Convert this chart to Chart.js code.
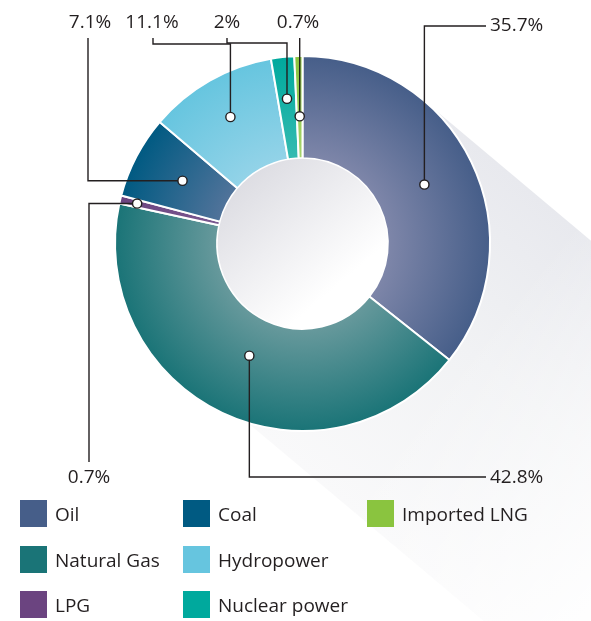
<!DOCTYPE html>
<html>
<head>
<meta charset="utf-8">
<script src="https://cdn.jsdelivr.net/npm/chart.js@4.4.0/dist/chart.umd.min.js"></script>
<style>
  html, body { margin: 0; padding: 0; background: #fff; }
  #wrap { position: relative; width: 591px; height: 621px; overflow: hidden; }
  #c { position: absolute; left: 0; top: 0; }
  .lg { position: absolute; display: flex; align-items: center; height: 27px;
        font-family: "Open Sans", sans-serif; font-size: 19px; color: #231f20; white-space: nowrap; }
  .lg .sw { display: inline-block; width: 27px; height: 27px; margin-right: 8px; }
</style>
</head>
<body>
<div id="wrap">
  <canvas id="c" width="591" height="621"></canvas>
  <div id="legend"></div>
</div>
<script>
//-------------
//- DATA (clockwise from 12 o'clock)
//-------------
var labels = ["Oil", "Natural Gas", "LPG", "Coal", "Hydropower", "Nuclear power", "Imported LNG"];
var shares = [35.7, 42.8, 0.7, 7.1, 11.1, 2, 0.7];

// colours: outer edge / towards the hole
var outerColors = ["#465e89", "#1a7477", "#6b4480", "#005a82", "#66c5df", "#00a99d", "#8ac43f"];
var innerColors = ["#7e86a9", "#67999c", "#7a5890", "#51739a", "#93d3e8", "#35bbb1", "#a6d46c"];

var TEXT_COLOR = "#231f20";
var FONT = '19px "Open Sans", sans-serif';

// callout layout: t = where the dot sits between hole and rim
var callouts = [
    { t: 0.49, route: function (d) { return [[d.x, 26], [486, 26]]; }, text: [490, 26, "left"] },
    { t: 0.38, route: function (d) { return [[d.x, 477], [486, 477]]; }, text: [490, 478, "left"] },
    { t: 0.83, route: function (d) { return [[89, d.y], [89, 462]]; }, text: [89, 478, "center"] },
    { t: 0.49, route: function (d) { return [[88, d.y], [88, 38]]; }, text: [90, 23, "center"] },
    { t: 0.59, route: function (d) { return [[d.x, 44], [153, 44], [153, 38]]; }, text: [152, 23, "center"] },
    { t: 0.59, route: function (d) { return [[d.x, 43], [227, 43], [227, 38]]; }, text: [227, 23, "center"] },
    { t: 0.41, route: function (d) { return [[d.x, 38]]; }, text: [298, 23, "center"] }
];

function ringInfo(chart) {
    var a = chart.chartArea;
    var ctrl = chart.getDatasetMeta(0).controller;
    return {
        x: (a.left + a.right) / 2,
        y: (a.top + a.bottom) / 2,
        inner: ctrl.innerRadius,
        outer: ctrl.outerRadius
    };
}

function segmentFill(context) {
    var chart = context.chart;
    var i = context.dataIndex;
    if (!chart.chartArea) return outerColors[i];
    var r = ringInfo(chart);
    if (!r.outer) return outerColors[i];
    var g = chart.ctx.createRadialGradient(r.x, r.y, r.inner, r.x, r.y, r.outer);
    g.addColorStop(0, innerColors[i]);
    g.addColorStop(1, outerColors[i]);
    return g;
}

// long shadow behind the ring + shaded hole
var decoPlugin = {
    id: "deco",
    beforeDatasetsDraw: function (chart) {
        var ctx = chart.ctx;
        var r = ringInfo(chart);
        var ang = 40 * Math.PI / 180;
        var dx = Math.cos(ang), dy = Math.sin(ang);
        var nx = -dy, ny = dx;
        var L = 900;
        var p1 = [r.x - r.outer * nx, r.y - r.outer * ny];
        var q1 = [r.x + 0.92 * r.outer * nx, r.y + 0.92 * r.outer * ny];

        ctx.save();
        ctx.beginPath();
        ctx.moveTo(p1[0], p1[1]);
        ctx.lineTo(p1[0] + L * dx, p1[1] + L * dy);
        ctx.lineTo(q1[0] + L * dx, q1[1] + L * dy);
        ctx.lineTo(q1[0], q1[1]);
        ctx.closePath();
        ctx.clip();

        var g = ctx.createLinearGradient(p1[0], p1[1], q1[0], q1[1]);
        g.addColorStop(0, "#e8e9ee");
        g.addColorStop(0.45, "#f1f2f4");
        g.addColorStop(1, "#f9f9fa");
        ctx.fillStyle = g;
        ctx.fillRect(0, 0, chart.width, chart.height);

        var f = ctx.createLinearGradient(r.x, r.y, r.x + 2.6 * r.outer * dx, r.y + 2.6 * r.outer * dy);
        f.addColorStop(0, "rgba(255,255,255,0)");
        f.addColorStop(0.4, "rgba(255,255,255,0)");
        f.addColorStop(1, "rgba(255,255,255,1)");
        ctx.fillStyle = f;
        ctx.fillRect(0, 0, chart.width, chart.height);
        ctx.restore();
    },
    afterDatasetsDraw: function (chart) {
        var ctx = chart.ctx;
        var r = ringInfo(chart);
        var meta = chart.getDatasetMeta(0);

        // hole
        var h = ctx.createLinearGradient(r.x - 0.7 * r.inner, r.y - 0.8 * r.inner, r.x + 0.4 * r.inner, r.y + 0.5 * r.inner);
        h.addColorStop(0, "#dcdce2");
        h.addColorStop(1, "#ffffff");
        ctx.save();
        ctx.beginPath();
        ctx.arc(r.x, r.y, r.inner - 0.5, 0, Math.PI * 2);
        ctx.fillStyle = h;
        ctx.fill();
        ctx.restore();

        // callouts
        ctx.save();
        ctx.strokeStyle = TEXT_COLOR;
        ctx.lineWidth = 1.4;
        ctx.font = FONT;
        ctx.fillStyle = TEXT_COLOR;
        ctx.textBaseline = "middle";
        meta.data.forEach(function (arc, i) {
            var c = callouts[i];
            var mid = (arc.startAngle + arc.endAngle) / 2;
            var rad = arc.innerRadius + c.t * (arc.outerRadius - arc.innerRadius);
            var d = { x: arc.x + rad * Math.cos(mid), y: arc.y + rad * Math.sin(mid) };

            ctx.beginPath();
            ctx.moveTo(d.x, d.y);
            c.route(d).forEach(function (p) { ctx.lineTo(p[0], p[1]); });
            ctx.stroke();

            ctx.beginPath();
            ctx.arc(d.x, d.y, 4.6, 0, Math.PI * 2);
            ctx.fillStyle = "#ffffff";
            ctx.fill();
            ctx.stroke();

            ctx.fillStyle = TEXT_COLOR;
            ctx.textAlign = c.text[2];
            ctx.fillText(shares[i] + "%", c.text[0], c.text[1]);
        });
        ctx.restore();
    }
};

var chart = new Chart(document.getElementById("c").getContext("2d"), {
    type: "doughnut",
    data: {
        labels: labels,
        datasets: [{
            data: shares,
            backgroundColor: segmentFill,
            borderColor: "#ffffff",
            borderWidth: 2,
            hoverOffset: 0
        }]
    },
    options: {
        responsive: false,
        animation: false,
        cutout: "45.5%",
        layout: { padding: { left: 114, right: 100, top: 55, bottom: 189 } },
        plugins: {
            legend: { display: false },
            tooltip: { enabled: false }
        }
    },
    plugins: [decoPlugin]
});

// legend, three columns filled top to bottom
var colX = [20, 183, 367];
var rowY = [500, 546, 591];
var legendBox = document.getElementById("legend");
labels.forEach(function (name, i) {
    var item = document.createElement("div");
    item.className = "lg";
    item.style.left = colX[Math.floor(i / 3)] + "px";
    item.style.top = rowY[i % 3] + "px";
    item.innerHTML = '<span class="sw" style="background:' + outerColors[i] + '"></span>' + name;
    legendBox.appendChild(item);
});
</script>
</body>
</html>
